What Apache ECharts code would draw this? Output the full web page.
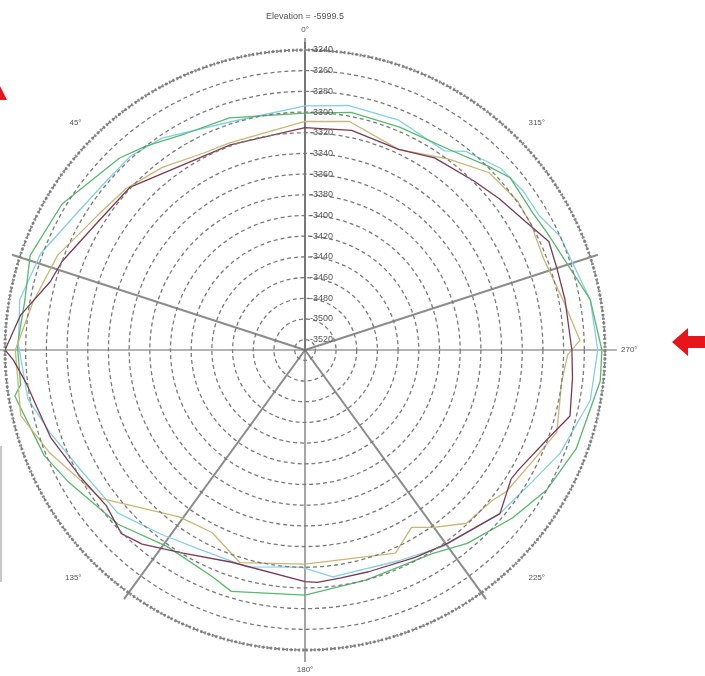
<!DOCTYPE html>
<html>
<head>
<meta charset="utf-8">
<script src="https://cdn.jsdelivr.net/npm/echarts@6/dist/echarts.min.js"></script>
<style>
  html, body { margin: 0; padding: 0; background: #fff; }
  #chart { width: 705px; height: 676px; }
</style>
</head>
<body>
<div id="chart"></div>
<script>
const titleText = 'Elevation = -5999.5'

// radius axis (elevation) range, ring labels every 20
const radiusMin = -3530
const radiusMax = -3240
const labelStep = 20

// angle label step (degrees) and spoke step
const angleLabelStep = 45
const spokeStep = 72

// series: angle (deg, counter-clockwise from top) and elevation
const cyanAngles = [0, 18, 34, 42, 49, 60, 70, 80, 89, 100, 108, 118, 131, 142, 152, 165, 179, 187, 204, 215, 230, 240, 248, 260, 270, 280, 288, 294, 300, 306, 313, 321, 325, 338, 350]
const cyanValues = [-3294, -3298, -3283, -3278, -3278, -3272, -3258, -3250, -3253, -3258, -3271, -3284, -3290, -3304, -3312, -3313, -3320, -3309, -3307, -3298, -3284, -3276, -3264, -3250, -3247, -3250, -3258, -3260, -3269, -3269, -3272, -3283, -3295, -3290, -3290]

const greenAngles = [0, 18, 29, 38, 44, 59, 71, 80, 89, 97, 99, 112, 119, 133, 145, 158, 163, 180, 195, 212, 220, 231, 240, 250, 264, 270, 280, 288, 296, 301, 310, 315, 324, 337, 349]
const greenValues = [-3301, -3294, -3291, -3280, -3272, -3256, -3249, -3255, -3252, -3253, -3246, -3258, -3268, -3283, -3298, -3293, -3286, -3293, -3300, -3298, -3286, -3272, -3260, -3251, -3243, -3243, -3250, -3263, -3270, -3273, -3271, -3279, -3291, -3296, -3296]

const oliveAngles = [0, 20, 27, 38, 48, 57, 69, 80, 90, 103, 112, 126, 143, 153, 163, 180, 204, 211, 216, 223, 231, 235, 244, 252, 263, 269, 272, 281, 291, 299, 305, 314, 323, 335, 349]
const oliveValues = [-3309, -3317, -3316, -3306, -3297, -3291, -3274, -3263, -3250, -3248, -3264, -3286, -3328, -3332, -3315, -3323, -3315, -3330, -3318, -3301, -3298, -3292, -3285, -3274, -3280, -3276, -3264, -3276, -3283, -3280, -3279, -3283, -3299, -3316, -3305]

const maroonAngles = [0, 20, 47, 59, 70, 75, 83, 90, 92, 97, 102, 109, 120, 128, 135, 140, 149, 161, 180, 183, 189, 196, 208, 216, 230, 238, 241, 250, 256, 264, 270, 281, 288, 294, 300, 308, 315, 326, 335, 348]
const maroonValues = [-3315, -3319, -3299, -3294, -3280, -3275, -3253, -3240, -3248, -3259, -3265, -3270, -3281, -3286, -3279, -3285, -3301, -3313, -3306, -3305, -3307, -3307, -3303, -3298, -3284, -3295, -3293, -3280, -3266, -3270, -3272, -3274, -3274, -3272, -3283, -3292, -3299, -3306, -3316, -3313]

const chart = echarts.init(document.getElementById('chart'))

// closed loop of [radius, angle] pairs
function toLoop(angles, values) {
  const pts = angles.map((a, i) => [values[i], a])
  pts.push([values[0], 360])
  return pts
}

const center = [305, 350]

function makeSeries(name, angles, values, color) {
  return {
    name: name,
    type: 'line',
    coordinateSystem: 'polar',
    polarIndex: 0,
    data: toLoop(angles, values),
    showSymbol: false,
    symbol: 'none',
    lineStyle: { color: color, width: 1.3 },
    z: 5
  }
}

const option = {
  animation: false,
  backgroundColor: '#fff',
  title: {
    text: titleText,
    left: 300,
    top: 7,
    textAlign: 'center',
    textStyle: { fontSize: 9, fontWeight: 'normal', color: '#555', fontFamily: 'Liberation Sans' }
  },
  polar: [
    { center: center, radius: 300 },
    { center: center, radius: 308 },
    { center: center, radius: 312 }
  ],
  angleAxis: [
    {
      polarIndex: 0,
      type: 'value',
      min: 0,
      max: 360,
      interval: angleLabelStep,
      startAngle: 90,
      clockwise: false,
      axisLine: { show: true, lineStyle: { color: '#8a8a8a', width: 3, type: [2, 2] } },
      axisTick: { show: false },
      splitLine: { show: false },
      axisLabel: {
        margin: 16,
        fontSize: 8,
        color: '#555',
        fontFamily: 'Liberation Sans',
        formatter: v => v + '°'
      }
    },
    {
      polarIndex: 1,
      type: 'value',
      min: 0,
      max: 360,
      interval: spokeStep,
      startAngle: 90,
      clockwise: false,
      axisLine: { show: false },
      axisTick: { show: false },
      axisLabel: { show: false },
      splitLine: { show: true, lineStyle: { color: '#8c8c8c', width: 2 } }
    },
    {
      polarIndex: 2,
      type: 'value',
      min: 0,
      max: 360,
      interval: 90,
      startAngle: 90,
      clockwise: false,
      axisLine: { show: false },
      axisTick: { show: false },
      axisLabel: { show: false },
      splitLine: { show: true, lineStyle: { color: '#6a6a6a', width: 1.2 } }
    }
  ],
  radiusAxis: [
    {
      polarIndex: 0,
      type: 'value',
      min: radiusMin,
      max: radiusMax,
      interval: labelStep / 2,
      axisLine: { show: false },
      axisTick: { show: false },
      splitLine: {
        show: true,
        lineStyle: { color: ['rgba(0,0,0,0)', '#7a7a7a'], width: 1.3, type: [4, 3] }
      },
      axisLabel: {
        margin: -5,
        align: 'left',
        fontSize: 9,
        color: '#555',
        fontFamily: 'Liberation Sans',
        formatter: v => (v % labelStep === 0 ? String(v) : '')
      },
      z: 6
    },
    { polarIndex: 1, type: 'value', axisLine: { show: false }, axisTick: { show: false }, axisLabel: { show: false }, splitLine: { show: false } },
    { polarIndex: 2, type: 'value', axisLine: { show: false }, axisTick: { show: false }, axisLabel: { show: false }, splitLine: { show: false } }
  ],
  series: [
    makeSeries('cyan', cyanAngles, cyanValues, '#86cfe4'),
    makeSeries('green', greenAngles, greenValues, '#5bb66f'),
    makeSeries('olive', oliveAngles, oliveValues, '#c6b779'),
    makeSeries('maroon', maroonAngles, maroonValues, '#7a3a52')
  ],
  graphic: [
    { type: 'polygon', shape: { points: [[0, 86], [7, 100], [0, 100]] }, style: { fill: '#e8141c' } },
    { type: 'polygon', shape: { points: [[672, 342], [688, 328], [688, 336], [705, 336], [705, 348], [688, 348], [688, 356]] }, style: { fill: '#e8141c' } },
    { type: 'line', shape: { x1: 1, y1: 446, x2: 1, y2: 582 }, style: { stroke: '#b5b5b5', lineWidth: 1.5 } }
  ]
}

chart.setOption(option)
</script>
</body>
</html>
